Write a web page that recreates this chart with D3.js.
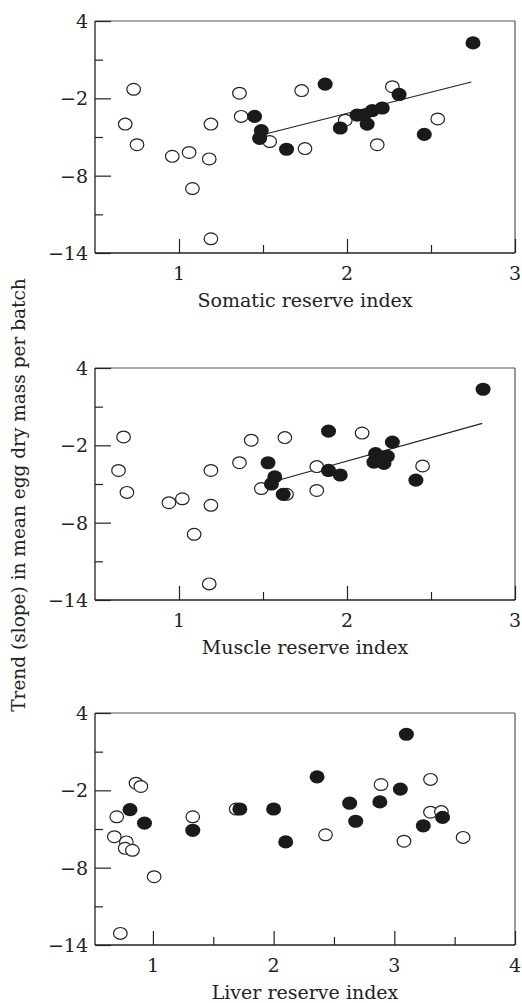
<!DOCTYPE html>
<html>
<head>
<meta charset="utf-8">
<script src="https://cdn.jsdelivr.net/npm/d3@7"></script>
<style>
  body { margin: 0; background: #fff; }
  text { font-family: "DejaVu Serif", serif; fill: #222; }
</style>
</head>
<body>
<svg width="522" height="1003"></svg>
<script>
// somatic reserve index
var somOpenX = [0.73, 0.68, 0.75, 0.96, 1.06, 1.18, 1.19, 1.08, 1.19, 1.36, 1.37, 1.54, 1.73, 1.75, 1.99, 2.27, 2.18, 2.54];
var somOpenY = [-1.3, -4.0, -5.6, -6.5, -6.2, -6.7, -4.0, -9.0, -12.9, -1.6, -3.4, -5.35, -1.4, -5.9, -3.7, -1.1, -5.6, -3.6];
var somFillX = [1.45, 1.49, 1.48, 1.64, 1.87, 1.96, 2.06, 2.10, 2.12, 2.15, 2.21, 2.31, 2.46, 2.75];
var somFillY = [-3.4, -4.5, -5.1, -5.95, -0.9, -4.3, -3.3, -3.3, -4.0, -2.95, -2.75, -1.7, -4.8, 2.3];
var somFitX = [1.52, 2.74];
var somFitY = [-4.75, -0.73];

// muscle reserve index
var musOpenX = [0.67, 0.64, 0.69, 0.94, 1.02, 1.19, 1.19, 1.09, 1.18, 1.43, 1.36, 1.63, 1.49, 1.64, 1.82, 1.82, 2.09, 2.45];
var musOpenY = [-1.35, -3.95, -5.65, -6.45, -6.15, -6.65, -3.95, -8.9, -12.75, -1.6, -3.35, -1.4, -5.35, -5.8, -3.65, -5.5, -1.05, -3.6];
var musFillX = [1.53, 1.57, 1.55, 1.62, 1.89, 1.89, 1.96, 2.17, 2.24, 2.16, 2.22, 2.27, 2.41, 2.81];
var musFillY = [-3.35, -4.45, -5.0, -5.8, -0.9, -3.95, -4.3, -2.65, -2.85, -3.3, -3.4, -1.75, -4.7, 2.35];
var musFitX = [1.58, 2.805];
var musFitY = [-4.75, -0.3];

// liver reserve index (no fitted line)
var livOpenX = [0.86, 0.90, 0.70, 0.68, 0.78, 0.77, 0.83, 1.33, 1.69, 1.01, 0.73, 2.43, 2.89, 3.08, 3.30, 3.30, 3.39, 3.57];
var livOpenY = [-1.45, -1.7, -4.05, -5.6, -6.0, -6.5, -6.65, -4.05, -3.45, -8.7, -13.1, -5.45, -1.55, -5.95, -1.15, -3.7, -3.65, -5.65];
var livFillX = [0.81, 0.93, 1.33, 1.72, 2.00, 2.10, 2.36, 2.63, 2.68, 2.88, 3.05, 3.10, 3.24, 3.40];
var livFillY = [-3.5, -4.55, -5.1, -3.45, -3.45, -6.0, -0.95, -3.0, -4.4, -2.9, -1.9, 2.35, -4.75, -4.1];

var yMajor = [4, -2, -8, -14];
var yMinor = [1, -5, -11];
var xMajor12 = [1, 2, 3];
var xMinor12 = [1.5, 2.5];
var xMajor3 = [1, 2, 3, 4];
var xMinor3 = [1.5, 2.5, 3.5];

var yTitle = "Trend (slope) in mean egg dry mass per batch";

var panels = [
  {title: "Somatic reserve index", top: 21, xd: [0.5, 3], ox: somOpenX, oy: somOpenY, fx: somFillX, fy: somFillY, lx: somFitX, ly: somFitY, xM: xMajor12, xm: xMinor12},
  {title: "Muscle reserve index", top: 368, xd: [0.5, 3], ox: musOpenX, oy: musOpenY, fx: musFillX, fy: musFillY, lx: musFitX, ly: musFitY, xM: xMajor12, xm: xMinor12},
  {title: "Liver reserve index", top: 713, xd: [0.52, 4], ox: livOpenX, oy: livOpenY, fx: livFillX, fy: livFillY, lx: null, ly: null, xM: xMajor3, xm: xMinor3}
];

var svg = d3.select("svg");
var left = 95, right = 515, h = 232;
var minus = function(v) { return String(v).replace("-", "\u2212"); };

panels.forEach(function(p) {
  var x = d3.scaleLinear().domain(p.xd).range([left, right]);
  var y = d3.scaleLinear().domain([-14, 4]).range([p.top + h, p.top]);
  var g = svg.append("g");

  // frame: top and right lighter
  g.append("line").attr("x1", left).attr("x2", right).attr("y1", p.top).attr("y2", p.top)
    .attr("stroke", "#555").attr("stroke-width", 1.2);
  g.append("line").attr("x1", right).attr("x2", right).attr("y1", p.top).attr("y2", p.top + h)
    .attr("stroke", "#555").attr("stroke-width", 1.2);

  // y axis, ticks pointing inward
  var ya = d3.axisRight(y).tickValues(yMajor).tickSize(16).tickFormat("");
  g.append("g").attr("transform", "translate(" + left + ",0)").call(ya)
    .call(function(s) { s.select(".domain").remove(); });
  var ym = d3.axisRight(y).tickValues(yMinor).tickSize(8).tickFormat("");
  g.append("g").attr("transform", "translate(" + left + ",0)").call(ym)
    .call(function(s) { s.select(".domain").remove(); });
  g.append("line").attr("x1", left).attr("x2", left).attr("y1", p.top).attr("y2", p.top + h)
    .attr("stroke", "#222").attr("stroke-width", 1.3);
  g.selectAll(".ylab").data(yMajor).enter().append("text")
    .attr("x", left - 7).attr("y", function(d) { return y(d); })
    .attr("dy", "0.36em").attr("text-anchor", "end").attr("font-size", 19)
    .text(minus);

  // x axis, ticks pointing up
  var xa = d3.axisTop(x).tickValues(p.xM).tickSize(14).tickFormat("");
  g.append("g").attr("transform", "translate(0," + (p.top + h) + ")").call(xa)
    .call(function(s) { s.select(".domain").remove(); });
  var xm = d3.axisTop(x).tickValues(p.xm).tickSize(8).tickFormat("");
  g.append("g").attr("transform", "translate(0," + (p.top + h) + ")").call(xm)
    .call(function(s) { s.select(".domain").remove(); });
  g.append("line").attr("x1", left).attr("x2", right).attr("y1", p.top + h).attr("y2", p.top + h)
    .attr("stroke", "#222").attr("stroke-width", 1.3);
  g.selectAll(".tick line").attr("stroke", "#222").attr("stroke-width", 1.2);
  g.selectAll(".xlab").data(p.xM).enter().append("text")
    .attr("x", function(d) { return x(d); }).attr("y", p.top + h + 27)
    .attr("text-anchor", "middle").attr("font-size", 19)
    .text(function(d) { return d; });

  g.append("text").attr("x", (left + right) / 2).attr("y", p.top + h + 54)
    .attr("text-anchor", "middle").attr("font-size", 19).text(p.title);

  // fitted line
  if (p.lx) {
    g.append("line")
      .attr("x1", x(p.lx[0])).attr("y1", y(p.ly[0]))
      .attr("x2", x(p.lx[1])).attr("y2", y(p.ly[1]))
      .attr("stroke", "#222").attr("stroke-width", 1.2);
  }

  g.selectAll(".open").data(d3.range(p.ox.length)).enter().append("ellipse")
    .attr("cx", function(i) { return x(p.ox[i]); })
    .attr("cy", function(i) { return y(p.oy[i]); })
    .attr("rx", 6.8).attr("ry", 5.9)
    .attr("fill", "#fff").attr("stroke", "#222").attr("stroke-width", 1.2);

  g.selectAll(".fill").data(d3.range(p.fx.length)).enter().append("ellipse")
    .attr("cx", function(i) { return x(p.fx[i]); })
    .attr("cy", function(i) { return y(p.fy[i]); })
    .attr("rx", 7.5).attr("ry", 6.6)
    .attr("fill", "#1a1a1a");
});

svg.append("text")
  .attr("transform", "translate(25,495) rotate(-90)")
  .attr("text-anchor", "middle").attr("font-size", 18.5)
  .text(yTitle);
</script>
</body>
</html>
